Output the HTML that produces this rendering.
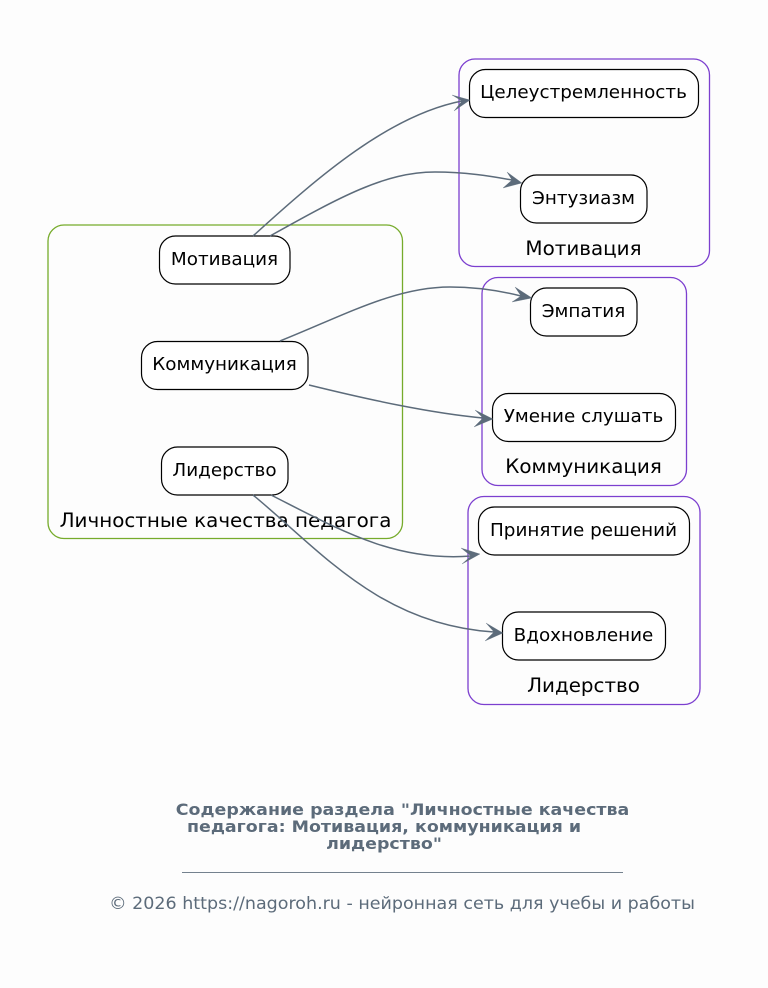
<!DOCTYPE html>
<html><head><meta charset="utf-8"><style>
html,body{margin:0;padding:0;background:#fdfdfd}
svg{display:block}
text{font-family:"DejaVu Sans",sans-serif;text-anchor:middle}
.n{font-size:18px;fill:#000}
.l{font-size:19.5px;fill:#000}
.b{fill:#fff;stroke:#000;stroke-width:1.2}
.g{fill:none;stroke:#7c3fcf;stroke-width:1.3}
.e{fill:none;stroke:#5c6b7a;stroke-width:1.5}
.h{fill:#5c6b7a;stroke:#5c6b7a;stroke-width:.3}
.t{font-size:16px;font-weight:bold;fill:#5c6b7a}
</style></head><body>
<svg xmlns="http://www.w3.org/2000/svg" width="768" height="988" viewBox="0 0 768 988">
<rect width="768" height="988" fill="#fdfdfd"/>
<rect x="48" y="225" width="354.500" height="313.500" rx="16" fill="none" stroke="#76ab2b" stroke-width="1.3"/>
<rect class="g" x="459" y="59" width="250.500" height="207.500" rx="16"/>
<rect class="g" x="482" y="277.500" width="204.500" height="208" rx="16"/>
<rect class="g" x="468" y="496.500" width="232" height="208" rx="16"/>

<rect class="b" x="159.500" y="236" width="130.500" height="48" rx="16"/>
<rect class="b" x="141.500" y="341.500" width="166.500" height="48" rx="16"/>
<rect class="b" x="161.500" y="447" width="126.500" height="48" rx="16"/>
<rect class="b" x="469.500" y="69.500" width="229" height="48" rx="16"/>
<rect class="b" x="520.500" y="175" width="126.500" height="48" rx="16"/>
<rect class="b" x="530.500" y="288" width="106.500" height="48" rx="16"/>
<rect class="b" x="492.500" y="393.500" width="183" height="48" rx="16"/>
<rect class="b" x="478.500" y="507" width="211" height="48" rx="16"/>
<rect class="b" x="502.500" y="612" width="163" height="48" rx="16"/>

<text class="n" transform="translate(224.500,265) scale(1.02,1)">Мотивация</text>
<text class="n" transform="translate(224.500,370) scale(1.02,1)">Коммуникация</text>
<text class="n" transform="translate(224.500,476) scale(1.02,1)">Лидерство</text>
<text class="l" transform="translate(225.500,527) scale(1.02,1)">Личностные качества педагога</text>
<text class="n" transform="translate(583.500,98) scale(1.02,1)">Целеустремленность</text>
<text class="n" transform="translate(583.500,204) scale(1.02,1)">Энтузиазм</text>
<text class="l" transform="translate(583.500,255) scale(1.02,1)">Мотивация</text>
<text class="n" transform="translate(583.500,317) scale(1.02,1)">Эмпатия</text>
<text class="n" transform="translate(583.500,422) scale(1.02,1)">Умение слушать</text>
<text class="l" transform="translate(583.500,473) scale(1.02,1)">Коммуникация</text>
<text class="n" transform="translate(583.500,536) scale(1.02,1)">Принятие решений</text>
<text class="n" transform="translate(583.500,641) scale(1.02,1)">Вдохновление</text>
<text class="l" transform="translate(583.500,692) scale(1.02,1)">Лидерство</text>

<path class="e" d="M253,236 C320,175 390,115 462,101"/>
<polygon class="h" points="470,100 452,95 462,101 454,111"/>
<path class="e" d="M270,236 C340,197 385,172 435,172 C465,172 490,176 512,180"/>
<polygon class="h" points="522,183 507,172 512,180 503,188"/>
<path class="e" d="M280,341 C345,315 395,287 450,287 C480,287 505,292 521,296"/>
<polygon class="h" points="532,298 515,287 521,296 512,302"/>
<path class="e" d="M309,385 C370,400 430,413 483,418"/>
<polygon class="h" points="493,419 475,410 483,418 474,427"/>
<path class="e" d="M271,495 C340,530 395,562 471,556"/>
<polygon class="h" points="480,554 461,548 471,556 462,564"/>
<path class="e" d="M253,495 C320,550 380,625 494,632"/>
<polygon class="h" points="503,633 486,623 494,632 485,641"/>

<text class="t" transform="translate(402.500,815) scale(1.09,1)">Содержание раздела "Личностные качества</text>
<text class="t" transform="translate(384,832) scale(1.09,1)">педагога: Мотивация, коммуникация и</text>
<text class="t" transform="translate(384,849) scale(1.09,1)">лидерство"</text>
<rect x="182" y="872" width="441" height="1" fill="#5c6b7a" opacity=".85"/>
<text transform="translate(402,909) scale(1.06,1)" font-size="16.5" fill="#5c6b7a">© 2026 https://nagoroh.ru - нейронная сеть для учебы и работы</text>
</svg>
</body></html>
